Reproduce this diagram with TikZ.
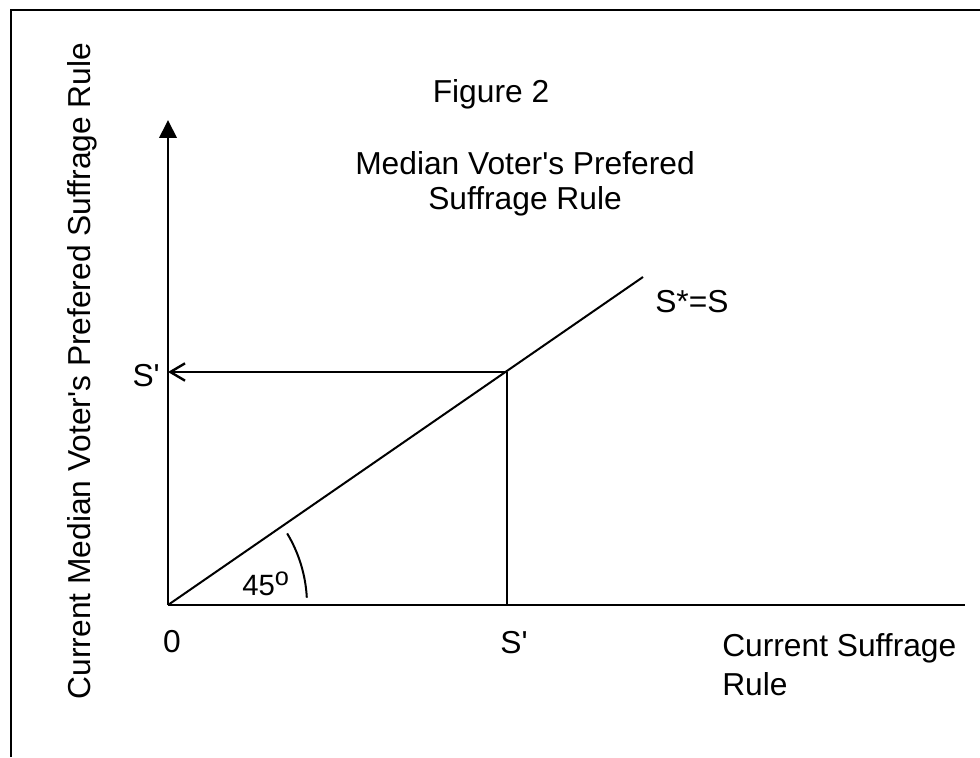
\documentclass[tikz,border=0pt]{standalone}
\usepackage{fontspec}
\setmainfont{Liberation Sans}[Ligatures=TeXOff]
\usetikzlibrary{arrows.meta,positioning}

\begin{document}
\begin{tikzpicture}[
    x=0.75pt, y=0.75pt,
    lbl/.style={
      inner sep=0pt, font=\fontsize{23.8}{29.2}\selectfont
    },
    axis/.style={line width=2pt},
    guide/.style={line width=0.8pt},
    curve/.style={line width=1.5pt}
  ]
    \useasboundingbox (0,0) rectangle (980,757);

    % frame (top and left edge only)
    \draw[line width=1.1pt] (11,0) -- (11,747) -- (980,747);

    % key points
    \coordinate (O)    at (168,152);
    \coordinate (ytop) at (168,637);
    \coordinate (xend) at (965,152);
    \coordinate (dend) at (643,480);
    \coordinate (P)    at (507,385);
    \coordinate (Px)   at (507,152);
    \coordinate (Py)   at (168,385);

    % axes
    \draw[axis, -{Triangle[length=13.5pt,width=13pt]}] (O) -- (ytop);
    \draw[axis] (O) -- (xend);

    % 45 degree line
    \draw[curve] (O) -- (dend);

    % S' read-off
    \draw[guide] (Px) -- (P);
    \draw[guide, -{Straight Barb[length=11pt,width=13pt,line width=1.8pt]}] (P) -- (Py);

    % angle mark
    \draw[curve] ([shift={(31:139)}]O) arc[start angle=31, end angle=3, radius=139];

    % labels
    \node[lbl, anchor=base] (title) at (491,654) {Figure 2};
    \node[lbl, anchor=base, align=center, font=\fontsize{23.8}{26.3}\selectfont] (sub) at (525,547)
      {Median Voter's Prefered\\Suffrage Rule};
    \node[lbl, anchor=base, rotate=90] (ylab) at (90,386)
      {Current Median Voter's Prefered Suffrage Rule};
    \node[lbl, anchor=base west, align=left] (xlab) at (722,62)
      {Current Suffrage\\Rule};
    \node[lbl, anchor=base] (zero) at (172,105) {0};
    \node[lbl, anchor=base] (sx) at (514,104) {S'};
    \node[lbl, anchor=base east] (sy) at (160,370) {S'};
    \node[lbl, anchor=base west] (line) at (655,444) {S*=S};
    \node[lbl, anchor=base west, font=\fontsize{22}{22}\selectfont] (ang) at (242,162)
      {45\raisebox{7.5pt}{\fontsize{19}{19}\selectfont o}};

\end{tikzpicture}
\end{document}
